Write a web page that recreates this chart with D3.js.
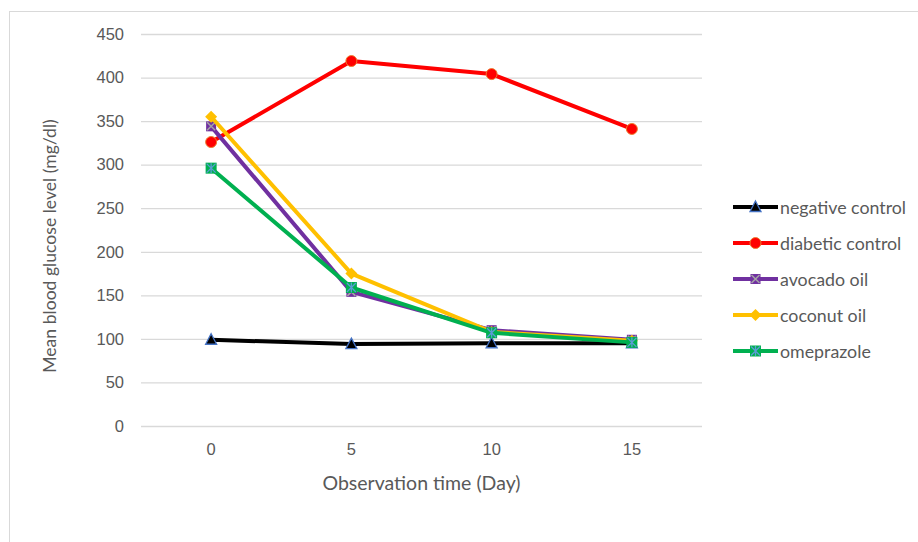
<!DOCTYPE html>
<html>
<head>
<meta charset="utf-8">
<script src="https://cdn.jsdelivr.net/npm/d3@7"></script>
<style>
  body { margin: 0; background: #fff; }
  svg { font-family: Lato, "Open Sans", sans-serif; }
  .tick text { fill: #595959; font-size: 16.5px; }
</style>
</head>
<body>
<svg width="918" height="542"></svg>
<script>
// observation days (category axis)
var days = ["0", "5", "10", "15"];
// mean blood glucose (mg/dl) per group
var negativeControl = [99, 94, 95, 95];
var diabeticControl = [326, 419, 404, 341];
var avocadoOil = [344, 154, 110, 99];
var coconutOil = [355, 175, 108, 98];
var omeprazole = [296, 159, 107, 96];
var yTicks = [0, 50, 100, 150, 200, 250, 300, 350, 400, 450];

var seriesNames = ["negative control", "diabetic control", "avocado oil", "coconut oil", "omeprazole"];
var seriesValues = [negativeControl, diabeticControl, avocadoOil, coconutOil, omeprazole];
var colors = ["#000000", "#ff0000", "#7030a0", "#ffc000", "#00b050"];
var markers = ["triangle", "circle", "xsquare", "diamond", "starsquare"];

var svg = d3.select("svg");

// outer chart frame
svg.append("rect")
  .attr("x", 9.5).attr("y", 11.5)
  .attr("width", 930).attr("height", 560)
  .attr("fill", "none").attr("stroke", "#d9d9d9");

var margin = {top: 34, left: 141, right: 216, bottom: 116};
var plotWidth = 918 - margin.left - margin.right;
var plotHeight = 542 - margin.top - margin.bottom;

var plot = svg.append("g")
  .attr("transform", "translate(" + margin.left + "," + margin.top + ")");

var xScale = d3.scaleBand().domain(days).range([0, plotWidth]);
var yScale = d3.scaleLinear().domain([0, 450]).range([plotHeight, 0]);

// gridlines + y axis labels
var yAxis = d3.axisLeft(yScale).tickValues(yTicks).tickSize(-plotWidth).tickPadding(17);
var yGroup = plot.append("g").call(yAxis);
yGroup.select(".domain").remove();
yGroup.selectAll(".tick line").attr("stroke", "#d9d9d9").attr("stroke-width", 1.3);

var xAxis = d3.axisBottom(xScale).tickSize(0).tickPadding(17);
var xGroup = plot.append("g")
  .attr("transform", "translate(0," + plotHeight + ")")
  .call(xAxis);
xGroup.select(".domain").remove();

// axis titles
svg.append("text")
  .attr("x", margin.left + plotWidth / 2).attr("y", 490)
  .attr("text-anchor", "middle")
  .attr("fill", "#595959").style("font-size", "19.5px")
  .text("Observation time (Day)");

svg.append("text")
  .attr("transform", "translate(56,246) rotate(-90)")
  .attr("text-anchor", "middle")
  .attr("fill", "#595959").style("font-size", "17.6px")
  .text("Mean blood glucose level (mg/dl)");

var line = d3.line()
  .x(function(d, i) { return xScale(days[i]) + xScale.bandwidth() / 2; })
  .y(function(d) { return yScale(d); });

// draw one marker of a given type centred at 0,0
var drawMarker = function(g, type, color) {
  if (type == "triangle") {
    g.append("path").attr("d", "M0,-6L5.5,4.5L-5.5,4.5Z")
      .attr("fill", "#000").attr("stroke", "#4472c4").attr("stroke-width", 1.3);
  } else if (type == "circle") {
    g.append("circle").attr("r", 5.5)
      .attr("fill", "#ff0000").attr("stroke", "#ed7d31").attr("stroke-width", 1);
  } else if (type == "xsquare") {
    g.append("rect").attr("x", -5).attr("y", -5).attr("width", 10).attr("height", 10)
      .attr("fill", color);
    g.append("path").attr("d", "M-4,-4L4,4M4,-4L-4,4")
      .attr("stroke", "#a5a5a5").attr("stroke-width", 1.5);
  } else if (type == "diamond") {
    g.append("path").attr("d", "M0,-6L6,0L0,6L-6,0Z").attr("fill", color);
  } else if (type == "starsquare") {
    g.append("rect").attr("x", -5.5).attr("y", -5.5).attr("width", 11).attr("height", 11)
      .attr("fill", color);
    g.append("path").attr("d", "M-4.5,-4.5L4.5,4.5M4.5,-4.5L-4.5,4.5M0,-5L0,5")
      .attr("stroke", "#5b9bd5").attr("stroke-width", 1.3);
  }
};

// series lines and markers
seriesValues.forEach(function(vals, s) {
  plot.append("path")
    .datum(vals)
    .attr("d", line)
    .attr("fill", "none")
    .attr("stroke", colors[s])
    .attr("stroke-width", 4)
    .attr("stroke-linejoin", "round");
  vals.forEach(function(v, i) {
    var g = plot.append("g")
      .attr("transform", "translate(" + (xScale(days[i]) + xScale.bandwidth() / 2) + "," + yScale(v) + ")");
    drawMarker(g, markers[s], colors[s]);
  });
});

// legend
var legend = svg.append("g").attr("transform", "translate(733,207)");
seriesNames.forEach(function(name, s) {
  var row = legend.append("g").attr("transform", "translate(0," + (s * 36) + ")");
  row.append("line").attr("x1", 0).attr("x2", 45).attr("y1", 0).attr("y2", 0)
    .attr("stroke", colors[s]).attr("stroke-width", 4);
  var m = row.append("g").attr("transform", "translate(22.5,0)");
  drawMarker(m, markers[s], colors[s]);
  row.append("text").attr("x", 47).attr("y", 6.5)
    .attr("fill", "#595959").style("font-size", "17.8px")
    .text(name);
});
</script>
</body>
</html>
